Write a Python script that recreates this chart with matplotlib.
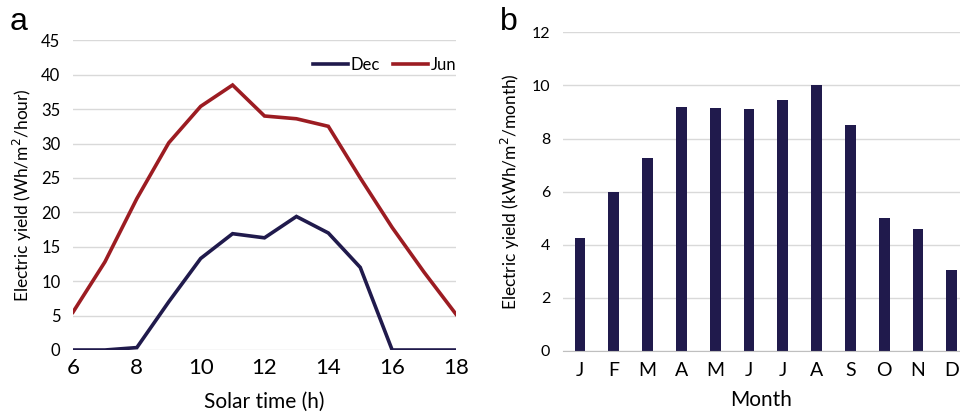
import matplotlib
matplotlib.use("Agg")
import matplotlib.pyplot as plt

hours = [6, 7, 8, 9, 10, 11, 12, 13, 14, 15, 16, 17, 18]
dec = [0, 0, 0.35, 7.0, 13.3, 16.9, 16.3, 19.4, 17.0, 12.0, 0, 0, 0]
jun = [5.5, 12.8, 22.0, 30.1, 35.4, 38.5, 34.0, 33.6, 32.5, 25.0, 17.8, 11.3, 5.2]
months = ["J", "F", "M", "A", "M", "J", "J", "A", "S", "O", "N", "D"]
monthly = [4.27, 5.97, 7.28, 9.17, 9.15, 9.12, 9.45, 10.03, 8.5, 5.0, 4.58, 3.04]

navy = "#201a4c"
red = "#9c1c22"
grid = "#d9d9d9"
W, H = 960, 417

plt.rcParams["font.family"] = ["Lato", "DejaVu Sans"]
fig = plt.figure(figsize=(9.6, 4.17), dpi=100)

def box(l, r, t, b):
    return [l / W, 1 - b / H, (r - l) / W, (b - t) / H]

# Panel a
ax1 = fig.add_axes(box(73, 456, 40.3, 350))
ax1.plot(hours, dec, color=navy, lw=2.6, label="Dec", solid_joinstyle="miter")
ax1.plot(hours, jun, color=red, lw=2.6, label="Jun", solid_joinstyle="miter")
ax1.set_xlim(6, 18)
ax1.set_ylim(0, 45)
ax1.set_xticks(range(6, 19, 2))
ax1.set_yticks(range(0, 46, 5))
ax1.grid(axis="y", color=grid, lw=1)
ax1.set_axisbelow(True)
for s in ["top", "right", "left", "bottom"]:
    ax1.spines[s].set_visible(False)
ax1.tick_params(axis="both", length=0)
ax1.tick_params(axis="x", labelsize=16, pad=6)
ax1.tick_params(axis="y", labelsize=12, pad=9)
ax1.set_xlabel("Solar time (h)", fontsize=15, labelpad=10)
ax1.set_ylabel("Electric yield (Wh/m$^2$/hour)", fontsize=12.5, labelpad=5)
ax1.legend(loc="center right", bbox_to_anchor=(1.0, 0.92), ncol=2, frameon=False,
           fontsize=12, handlelength=2.1, handletextpad=0.15, columnspacing=0.8,
           borderaxespad=0, borderpad=0)
fig.text(10 / W, 1 - 30 / H, "a", fontsize=23, family=["Liberation Sans", "DejaVu Sans"])

# Panel b
ax2 = fig.add_axes(box(562.7, 960, 32.3, 351))
x = list(range(len(months)))
ax2.bar(x, monthly, width=0.32, color=navy)
ax2.set_xlim(-0.51, 11.24)
ax2.set_ylim(0, 12)
ax2.set_xticks(x)
ax2.set_xticklabels(months)
ax2.set_yticks(range(0, 13, 2))
ax2.grid(axis="y", color=grid, lw=1)
ax2.set_axisbelow(True)
for s in ["top", "right", "left"]:
    ax2.spines[s].set_visible(False)
ax2.spines["bottom"].set_color("#bfbfbf")
ax2.tick_params(axis="both", length=0)
ax2.tick_params(axis="x", labelsize=14, pad=8)
ax2.tick_params(axis="y", labelsize=11.5, pad=9)
ax2.set_xlabel("Month", fontsize=15, labelpad=8)
ax2.set_ylabel("Electric yield (kWh/m$^2$/month)", fontsize=12.5, labelpad=7)
fig.text(500 / W, 1 - 30 / H, "b", fontsize=23, family=["Liberation Sans", "DejaVu Sans"])

fig.savefig("out.png", dpi=100)
